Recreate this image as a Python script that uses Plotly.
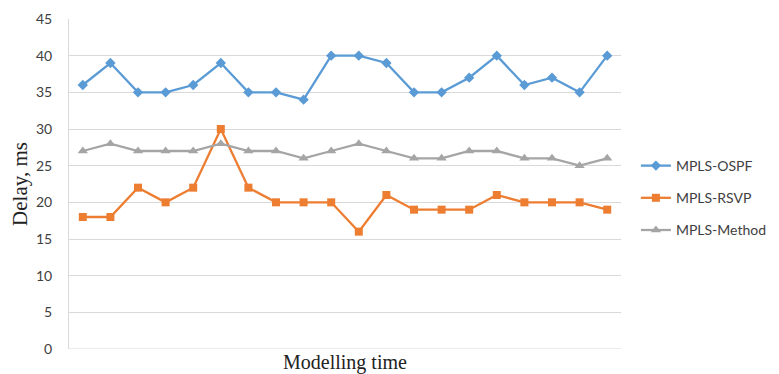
import plotly.graph_objects as go

x_points = list(range(1, 21))
ospf = [36, 39, 35, 35, 36, 39, 35, 35, 34, 40, 40, 39, 35, 35, 37, 40, 36, 37, 35, 40]
rsvp = [18, 18, 22, 20, 22, 30, 22, 20, 20, 20, 16, 21, 19, 19, 19, 21, 20, 20, 20, 19]
method = [27, 28, 27, 27, 27, 28, 27, 27, 26, 27, 28, 27, 26, 26, 27, 27, 26, 26, 25, 26]
y_ticks = [0, 5, 10, 15, 20, 25, 30, 35, 40, 45]

series = [
    ("MPLS-OSPF", ospf, "#5B9BD5", "diamond", 8),
    ("MPLS-RSVP", rsvp, "#ED7D31", "square", 8),
    ("MPLS-Method", method, "#A5A5A5", "triangle-up", 9),
]

fig = go.Figure()
for i, (name, vals, color, sym, sz) in enumerate(series):
    fig.add_trace(go.Scatter(
        x=x_points, y=vals, name=name, mode="lines+markers",
        line=dict(color=color, width=2.3),
        marker=dict(symbol=sym, size=sz, color=color),
        legendgroup=f"g{i}",
    ))

serif = "Liberation Serif, Times New Roman, serif"
fig.update_layout(
    width=771, height=366,
    margin=dict(l=61, r=158, t=11, b=25, autoexpand=False),
    paper_bgcolor="white", plot_bgcolor="white",
    font=dict(family="Lato, Open Sans, sans-serif", size=14, color="#404040"),
    showlegend=True,
    legend=dict(x=1.027, xanchor="left", y=0.603, yanchor="top",
                font=dict(family="Lato, sans-serif", size=14, color="#404040"),
                tracegroupgap=11, bgcolor="rgba(0,0,0,0)"),
    xaxis=dict(range=[0.5, 20.5], showticklabels=False, showgrid=False,
               zeroline=False, showline=False, ticks="", automargin=False),
    yaxis=dict(range=[0, 45], tickvals=y_ticks, showgrid=True, gridcolor="#d9d9d9",
               gridwidth=1, zeroline=False, showline=True, linecolor="#d9d9d9",
               ticks="", ticklabelstandoff=13, automargin=False,
               tickfont=dict(family="Lato, sans-serif", size=14, color="#404040"),
               title=dict(text="Delay, ms", standoff=4,
                          font=dict(family=serif, size=21, color="#222222"))),
    annotations=[dict(text="Modelling time", x=0.5, xref="paper", y=0, yref="paper",
                      xanchor="center", yanchor="middle", yshift=-13, showarrow=False,
                      font=dict(family=serif, size=20, color="#222222"))],
)
fig.add_hline(y=0, line=dict(color="#d9d9d9", width=1), layer="below")

fig.write_html("out.html")
